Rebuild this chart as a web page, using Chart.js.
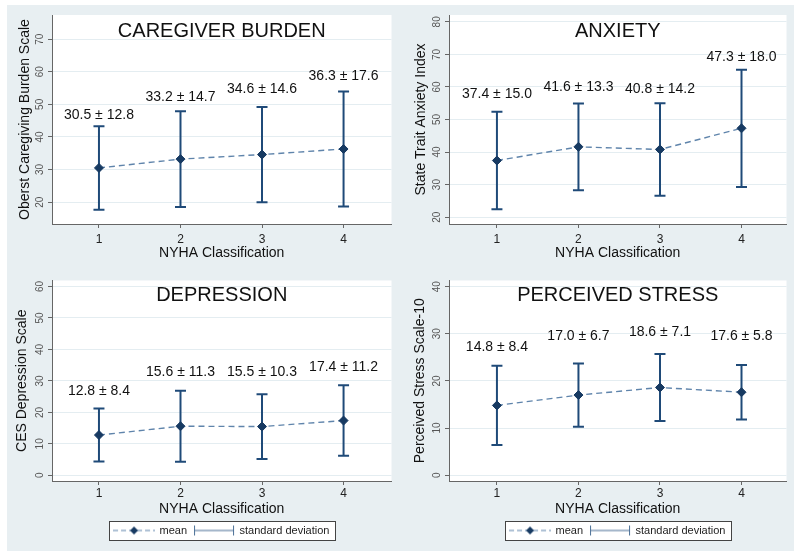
<!DOCTYPE html>
<html>
<head>
<meta charset="utf-8">
<script src="https://cdn.jsdelivr.net/npm/chart.js@4.4.1/dist/chart.umd.min.js"></script>
<style>
html, body { margin: 0; padding: 0; background: #fff; }
#page { position: relative; width: 794px; height: 551px; overflow: hidden; }
#bg { position: absolute; left: 7px; top: 5px; width: 787px; height: 546px; background: #e8eff2; }
.panel { position: absolute; }
.panel canvas { display: block; }
</style>
</head>
<body>
<div id="page">
  <div id="bg"></div>
  <div class="panel" style="left:7px;top:5px"><canvas id="c-burden" width="392" height="267"></canvas></div>
  <div class="panel" style="left:399px;top:5px"><canvas id="c-anxiety" width="395" height="267"></canvas></div>
  <div class="panel" style="left:7px;top:272px"><canvas id="c-depression" width="392" height="279"></canvas></div>
  <div class="panel" style="left:399px;top:272px"><canvas id="c-stress" width="395" height="279"></canvas></div>
</div>
<script>
// NYHA classes on the x axis
const nyha = [1, 2, 3, 4];

// Caregiver burden
const burdenMean = [30.5, 33.2, 34.6, 36.3];
const burdenSd = [12.8, 14.7, 14.6, 17.6];
const burdenLabelY = [46.7, 52.3, 54.6, 58.7];
const burdenTicks = [20, 30, 40, 50, 60, 70];

// Anxiety
const anxietyMean = [37.4, 41.6, 40.8, 47.3];
const anxietySd = [15.0, 13.3, 14.2, 18.0];
const anxietyLabelY = [57.7, 60.0, 59.4, 69.2];
const anxietyTicks = [20, 30, 40, 50, 60, 70, 80];

// Depression
const depressionMean = [12.8, 15.6, 15.5, 17.4];
const depressionSd = [8.4, 11.3, 10.3, 11.2];
const depressionLabelY = [26.6, 32.7, 32.7, 34.3];
const depressionTicks = [0, 10, 20, 30, 40, 50, 60];

// Perceived stress
const stressMean = [14.8, 17.0, 18.6, 17.6];
const stressSd = [8.4, 6.7, 7.1, 5.8];
const stressLabelY = [27.1, 29.4, 30.3, 29.4];
const stressTicks = [0, 10, 20, 30, 40];

const COLORS = {
    navy:     '#1f4a78',
    navyDark: '#173a62',
    meanLine: '#5f84ab',
    axis:     '#666666',
    grid:     '#e4edf1',
    text:     '#111111',
    tick:     '#555555',
};

Chart.defaults.font.family = '"Liberation Sans", Arial, Helvetica, sans-serif';

// small legend symbols
function legendIcon(kind) {
    const c = document.createElement('canvas');
    c.width = 42; c.height = 12;
    const g = c.getContext('2d');
    if (kind === 'mean') {
        g.strokeStyle = COLORS.meanLine; g.lineWidth = 1.2; g.setLineDash([5, 3]);
        g.beginPath(); g.moveTo(0, 6); g.lineTo(42, 6); g.stroke();
        g.setLineDash([]);
        g.fillStyle = COLORS.navyDark;
        g.beginPath(); g.moveTo(21, 2); g.lineTo(25, 6); g.lineTo(21, 10); g.lineTo(17, 6); g.closePath(); g.fill();
    } else {
        g.strokeStyle = '#4a6f96'; g.lineWidth = 1;
        g.beginPath();
        g.moveTo(1.5, 1); g.lineTo(1.5, 11);
        g.moveTo(1.5, 6); g.lineTo(40.5, 6);
        g.moveTo(40.5, 1); g.lineTo(40.5, 11);
        g.stroke();
    }
    return c;
}
const meanIcon = legendIcon('mean');
const sdIcon = legendIcon('sd');

function makeChart(id, cfg) {
    // white plot area, legend frame, panel title and the "mean ± sd" labels
    const decor = {
        id: 'decor',
        beforeDraw(chart) {
            const {ctx, chartArea: a} = chart;
            ctx.save();
            ctx.fillStyle = '#ffffff';
            ctx.fillRect(a.left, a.top, a.right - a.left, a.bottom - a.top);
            const lg = chart.legend;
            if (cfg.legend && lg && lg.legendHitBoxes.length) {
                const hb = lg.legendHitBoxes;
                const l = Math.min(...hb.map(b => b.left)) - 5;
                const r = Math.max(...hb.map(b => b.left + b.width)) + 6;
                const t = hb[0].top - 4, b = hb[0].top + hb[0].height + 4;
                ctx.fillRect(l, t, r - l, b - t);
                ctx.strokeStyle = '#444'; ctx.lineWidth = 1;
                ctx.strokeRect(Math.round(l) + 0.5, Math.round(t) + 0.5, Math.round(r - l), Math.round(b - t));
            }
            ctx.restore();
        },
        afterDatasetsDraw(chart) {
            const {ctx, chartArea: a, scales: {x, y}} = chart;
            ctx.save();
            ctx.fillStyle = COLORS.text;
            ctx.textAlign = 'center';
            ctx.textBaseline = 'middle';
            ctx.font = '20px "Liberation Sans", Arial, sans-serif';
            ctx.fillText(cfg.title, (a.left + a.right) / 2, a.top + cfg.titleOffset);
            ctx.font = '14px "Liberation Sans", Arial, sans-serif';
            cfg.mean.forEach((m, i) => {
                ctx.fillText(m.toFixed(1) + ' \u00b1 ' + cfg.sd[i].toFixed(1),
                    x.getPixelForValue(nyha[i]), y.getPixelForValue(cfg.labelY[i]));
            });
            ctx.restore();
        }
    };

    const sdPoints = cfg.mean.flatMap((m, i) => [
        {x: nyha[i], y: m - cfg.sd[i]},
        {x: nyha[i], y: m + cfg.sd[i]},
        {x: nyha[i], y: null},
    ]);

    return new Chart(document.getElementById(id), {
        type: 'line',
        data: {
            datasets: [{
                label: 'mean',
                data: cfg.mean.map((m, i) => ({x: nyha[i], y: m})),
                borderColor: COLORS.meanLine,
                borderWidth: 1.4,
                borderDash: [6, 4],
                pointStyle: 'rectRot',
                pointRadius: 4.5,
                pointBackgroundColor: COLORS.navyDark,
                pointBorderColor: COLORS.navyDark,
                pointBorderWidth: 1,
                tension: 0,
                fill: false,
            }, {
                label: 'standard deviation',
                data: sdPoints,
                borderColor: COLORS.navy,
                borderWidth: 2,
                pointStyle: 'line',
                pointRadius: 5.5,
                pointBorderColor: COLORS.navy,
                pointBorderWidth: 2,
                spanGaps: false,
                tension: 0,
                fill: false,
            }]
        },
        options: {
            responsive: false,
            animation: false,
            events: [],
            layout: { padding: cfg.padding },
            plugins: {
                tooltip: { enabled: false },
                legend: cfg.legend ? {
                    display: true,
                    position: 'bottom',
                    fullSize: false,
                    labels: {
                        usePointStyle: true,
                        pointStyleWidth: 40,
                        boxHeight: 11,
                        padding: 7,
                        color: '#222',
                        font: { size: 11 },
                        generateLabels: () => [
                            {text: 'mean', pointStyle: meanIcon, fontColor: '#222', hidden: false, lineWidth: 0, strokeStyle: 'rgba(0,0,0,0)', fillStyle: 'rgba(0,0,0,0)', datasetIndex: 0},
                            {text: 'standard deviation', pointStyle: sdIcon, fontColor: '#222', hidden: false, lineWidth: 0, strokeStyle: 'rgba(0,0,0,0)', fillStyle: 'rgba(0,0,0,0)', datasetIndex: 1},
                        ]
                    }
                } : { display: false }
            },
            scales: {
                x: {
                    type: 'linear',
                    min: cfg.xMin,
                    max: cfg.xMax,
                    afterBuildTicks: s => { s.ticks = nyha.map(v => ({value: v})); },
                    afterFit: s => { s.height = cfg.xHeight; },
                    ticks: { padding: cfg.xTickPad, color: '#222', font: { size: 12 } },
                    grid: { drawOnChartArea: false, drawTicks: true, tickLength: 4, tickColor: COLORS.axis },
                    border: { display: true, color: COLORS.axis, width: 1 },
                    title: { display: true, text: 'NYHA Classification', color: COLORS.text, font: { size: 14 }, padding: { top: 0, bottom: cfg.xTitlePad } }
                },
                y: {
                    type: 'linear',
                    min: cfg.yMin,
                    max: cfg.yMax,
                    afterBuildTicks: s => { s.ticks = cfg.ticks.map(v => ({value: v})); },
                    afterFit: s => { s.width = cfg.yWidth; },
                    ticks: { minRotation: 90, maxRotation: 90, crossAlign: 'center', padding: 2.5, color: COLORS.tick, font: { size: 10 } },
                    grid: { color: COLORS.grid, lineWidth: 1, drawTicks: true, tickLength: 4, tickColor: COLORS.axis },
                    border: { display: true, color: COLORS.axis, width: 1 },
                    title: { display: true, text: cfg.yTitle, color: COLORS.text, font: { size: 14 }, padding: { top: cfg.yTitlePad, bottom: 0 } }
                }
            }
        },
        plugins: [decor]
    });
}

// 1. Caregiver burden (top left)
makeChart('c-burden', {
    title: 'CAREGIVER BURDEN', yTitle: 'Oberst Caregiving Burden Scale',
    mean: burdenMean, sd: burdenSd, labelY: burdenLabelY, ticks: burdenTicks,
    yMin: 13.3, yMax: 77.4, xMin: 0.424, xMax: 4.588,
    padding: { top: 10, right: 0, bottom: 0, left: 0 },
    yWidth: 45, yTitlePad: 9.6, xHeight: 48, xTickPad: 4, xTitlePad: 10.6,
    titleOffset: 16, legend: false
});

// 2. Anxiety (top right)
makeChart('c-anxiety', {
    title: 'ANXIETY', yTitle: 'State Trait Anxiety Index',
    mean: anxietyMean, sd: anxietySd, labelY: anxietyLabelY, ticks: anxietyTicks,
    yMin: 17.9, yMax: 82.1, xMin: 0.412, xMax: 4.552,
    padding: { top: 10, right: 0, bottom: 0, left: 0 },
    yWidth: 50, yTitlePad: 13.5, xHeight: 48, xTickPad: 4, xTitlePad: 10.6,
    titleOffset: 16, legend: false
});

// 3. Depression (bottom left)
makeChart('c-depression', {
    title: 'DEPRESSION', yTitle: 'CES Depression Scale',
    mean: depressionMean, sd: depressionSd, labelY: depressionLabelY, ticks: depressionTicks,
    yMin: -1.8, yMax: 61.9, xMin: 0.424, xMax: 4.588,
    padding: { top: 1, right: 0, bottom: 5, left: 0 },
    yWidth: 45, yTitlePad: 7.2, xHeight: 37, xTickPad: 1, xTitlePad: 0,
    titleOffset: 15, legend: true
});

// 4. Perceived stress (bottom right)
makeChart('c-stress', {
    title: 'PERCEIVED STRESS', yTitle: 'Perceived Stress Scale-10',
    mean: stressMean, sd: stressSd, labelY: stressLabelY, ticks: stressTicks,
    yMin: -1.23, yMax: 41.3, xMin: 0.412, xMax: 4.552,
    padding: { top: 1, right: 0, bottom: 5, left: 0 },
    yWidth: 50, yTitlePad: 12.5, xHeight: 37, xTickPad: 1, xTitlePad: 0,
    titleOffset: 15, legend: true
});
</script>
</body>
</html>
